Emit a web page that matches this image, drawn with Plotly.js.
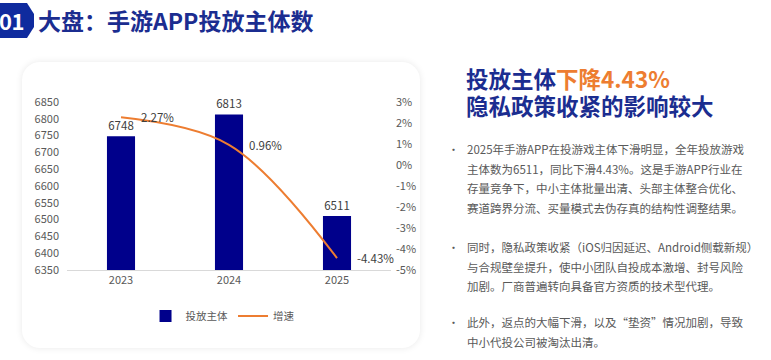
<!DOCTYPE html>
<html>
<head>
<meta charset="utf-8">
<script src="https://cdn.plot.ly/plotly-3.0.1.min.js"></script>
<style>
  html, body { margin:0; padding:0; width:771px; height:360px; background:#ffffff; overflow:hidden;
    font-family:"Noto Sans CJK SC","Noto Sans",sans-serif; }
  #badge { position:absolute; left:0; top:3px; width:34px; height:35px; background:#0f2b9e;
    clip-path: polygon(0 0, 27px 0, 34px 11px, 34px 24px, 27px 35px, 0 35px); }
  #badge span { position:absolute; left:-1px; top:2px; color:#fff; font-weight:700; font-size:22px; line-height:30px; letter-spacing:-0.5px; }
  #title { position:absolute; left:38px; top:4px; font-size:23px; font-weight:700; color:#1b2d90; line-height:32px; white-space:nowrap; }
  #card { position:absolute; left:22px; top:62px; width:398px; height:286px; border-radius:18px; background:#fff;
    box-shadow:0 0 7px rgba(0,0,0,0.09); }
  #chart { position:absolute; left:22px; top:62px; width:398px; height:286px; }
  .head { position:absolute; left:466px; font-size:22.5px; font-weight:700; color:#1b2d90; line-height:27px; white-space:nowrap; }
  .head .o { color:#ed7d31; }
  .p { position:absolute; left:467px; font-size:11.5px; color:#595959; line-height:19.5px; white-space:nowrap; }
  .b { position:absolute; left:448px; font-size:11px; color:#595959; line-height:19.5px; }
</style>
</head>
<body>
<div id="badge"><span>01</span></div>
<div id="title">大盘：手游APP投放主体数</div>
<div id="card"></div>
<div id="chart"></div>
<div class="head" style="top:65px">投放主体<span class="o">下降4.43%</span></div>
<div class="head" style="top:92px">隐私政策收紧的影响较大</div>

<div class="b" style="top:140px">•</div>
<div class="p" style="top:140px">2025年手游APP在投游戏主体下滑明显，全年投放游戏<br>主体数为6511，同比下滑4.43%。这是手游APP行业在<br>存量竞争下，中小主体批量出清、头部主体整合优化、<br>赛道跨界分流、买量模式去伪存真的结构性调整结果。</div>

<div class="b" style="top:238px">•</div>
<div class="p" style="top:238px">同时，隐私政策收紧（iOS归因延迟、Android侧载新规）<br>与合规壁垒提升，使中小团队自投成本激增、封号风险<br>加剧。厂商普遍转向具备官方资质的技术型代理。</div>

<div class="b" style="top:313px">•</div>
<div class="p" style="top:313px">此外，返点的大幅下滑，以及“垫资”情况加剧，导致<br>中小代投公司被淘汰出清。</div>

<script>
const years = ['2023', '2024', '2025'];
const subjects = [6748, 6813, 6511];
const growth = [2.27, 0.96, -4.43];
const growthLabels = ['2.27%', '0.96%', '-4.43%'];
const rightTickVals = [-5, -4, -3, -2, -1, 0, 1, 2, 3];
const rightTickText = ['-5%', '-4%', '-3%', '-2%', '-1%', '0%', '1%', '2%', '3%'];
const seriesNames = ['投放主体', '增速'];

const FONT = '"Noto Sans CJK SC", "Noto Sans", sans-serif';

const traces = [
  {
    type: 'bar', x: years, y: subjects, name: seriesNames[0],
    marker: { color: '#00008b' }, width: 0.26,
    text: subjects.map(String), textposition: 'outside',
    textfont: { size: 11.5, color: '#404040', family: FONT },
    cliponaxis: false, hoverinfo: 'skip'
  },
  {
    type: 'scatter', mode: 'lines', x: years, y: growth, yaxis: 'y2', name: seriesNames[1],
    line: { color: '#ed7d31', width: 2, shape: 'spline', smoothing: 1.0 },
    hoverinfo: 'skip'
  }
];

const annotations = years.map((yr, i) => ({
  x: i, y: growth[i], xref: 'x', yref: 'y2', text: growthLabels[i],
  showarrow: false, xanchor: 'left', yanchor: 'middle', xshift: 18,
  font: { size: 11.5, color: '#404040', family: FONT }
}));

const layout = {
  width: 398, height: 286,
  margin: { l: 45, r: 29, t: 40, b: 78 },
  paper_bgcolor: 'rgba(0,0,0,0)', plot_bgcolor: 'rgba(0,0,0,0)',
  font: { family: FONT, size: 11, color: '#595959' },
  showlegend: true,
  legend: { orientation: 'h', x: 0.48, xanchor: 'center', y: -0.274, yanchor: 'middle',
    font: { size: 10.5, color: '#595959' }, itemwidth: 30, traceorder: 'normal' },
  xaxis: { type: 'category', range: [-0.5, years.length - 0.5], autorange: false,
    showline: true, linecolor: '#d9d9d9', linewidth: 1,
    ticks: '', showgrid: false, tickfont: { size: 11, color: '#595959' }, zeroline: false },
  yaxis: { range: [6350, 6850], autorange: false, dtick: 50, tick0: 6350, showgrid: false, zeroline: false,
    showline: false, ticks: '', ticklabelstandoff: 7, tickfont: { size: 11, color: '#595959' } },
  yaxis2: { overlaying: 'y', side: 'right', range: [-5, 3], autorange: false, tickvals: rightTickVals, ticktext: rightTickText,
    showgrid: false, zeroline: false, showline: false, ticks: '', ticklabelstandoff: 4,
    tickfont: { size: 11, color: '#595959' } },
  annotations: annotations
};

Plotly.newPlot('chart', traces, layout, { displayModeBar: false, staticPlot: true });
</script>
</body>
</html>
